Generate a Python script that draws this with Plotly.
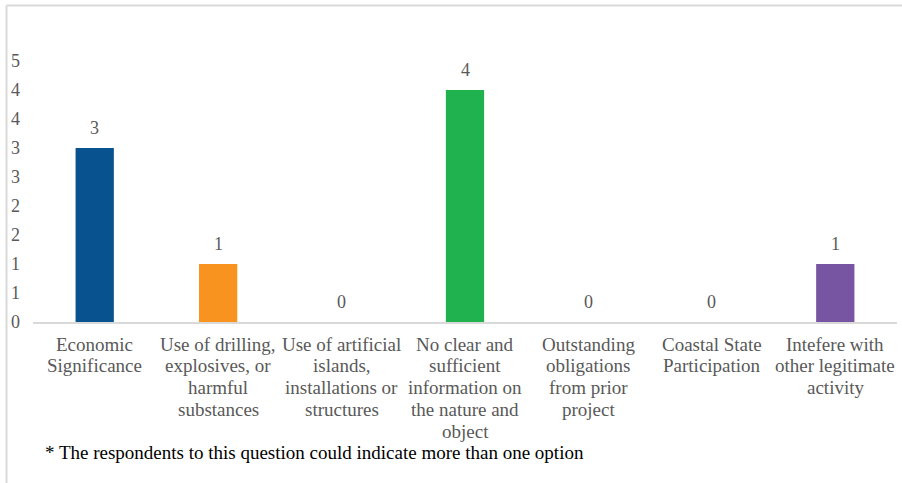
import plotly.graph_objects as go

# Reasons given by respondents (one entry per line of the wrapped label)
categories = [
    ["Economic", "Significance"],
    ["Use of drilling,", "explosives, or", "harmful", "substances"],
    ["Use of artificial", "islands,", "installations or", "structures"],
    ["No clear and", "sufficient", "information on", "the nature and", "object"],
    ["Outstanding", "obligations", "from prior", "project"],
    ["Coastal State", "Participation"],
    ["Intefere with", "other legitimate", "activity"],
]
counts = [3, 1, 0, 4, 0, 0, 1]
bar_colors = ["#08528F", "#F7931E", "#A5A5A5", "#20B24F", "#5B9BD5", "#70AD47", "#7855A3"]

tick_vals = [0, 0.5, 1, 1.5, 2, 2.5, 3, 3.5, 4, 4.5]
tick_text = ["0", "1", "1", "2", "2", "3", "3", "4", "4", "5"]

footnote = "* The respondents to this question could indicate more than one option"

W, H = 902, 483
ML, MR, MT, MB = 33, 5, 32, 161
pw, ph = W - ML - MR, H - MT - MB

def px_x(x):
    return (x - ML) / pw

def px_y(y):
    return (H - MB - y) / ph

font_family = "Liberation Serif"
gray = "#595959"
xs = list(range(len(categories)))

fig = go.Figure(
    go.Bar(
        x=xs,
        y=counts,
        marker=dict(color=bar_colors, line=dict(width=0)),
        width=0.31,
        cliponaxis=False,
    )
)

annotations = []
# value labels above each bar
for i, c in zip(xs, counts):
    annotations.append(dict(
        text=str(c), x=i, y=c, xref="x", yref="y",
        xanchor="center", yanchor="middle", yshift=20,
        showarrow=False,
        font=dict(family=font_family, size=18, color=gray),
    ))
# wrapped category labels below the axis
line_gap = 21.8
for i, lines in zip(xs, categories):
    for k, line in enumerate(lines):
        annotations.append(dict(
            text=line, x=i, y=px_y(344 + k * line_gap), xref="x", yref="paper",
            xanchor="center", yanchor="middle",
            showarrow=False,
            font=dict(family=font_family, size=19, color=gray),
        ))
annotations.append(dict(
    text=footnote,
    xref="paper", yref="paper",
    x=px_x(43), y=px_y(452),
    xanchor="left", yanchor="middle",
    showarrow=False,
    font=dict(family=font_family, size=19, color="black"),
))

fig.update_layout(
    width=W,
    height=H,
    margin=dict(l=ML, r=MR, t=MT, b=MB, pad=0),
    paper_bgcolor="white",
    plot_bgcolor="white",
    showlegend=False,
    font=dict(family=font_family, color=gray),
    xaxis=dict(
        range=[-0.5, len(categories) - 0.5],
        showgrid=False,
        showline=True,
        linecolor="#D9D9D9",
        linewidth=1.5,
        ticks="",
        showticklabels=False,
        fixedrange=True,
    ),
    yaxis=dict(
        range=[0, 5],
        tickmode="array",
        tickvals=tick_vals,
        ticktext=tick_text,
        showgrid=False,
        zeroline=False,
        showline=False,
        ticks="",
        tickfont=dict(family=font_family, size=18, color=gray),
        ticklabelstandoff=12,
        fixedrange=True,
    ),
    annotations=annotations,
    shapes=[
        # outer frame: top and left edges
        dict(type="line", xref="paper", yref="paper",
             x0=px_x(6.5), x1=px_x(902), y0=px_y(5.5), y1=px_y(5.5),
             line=dict(color="#D9D9D9", width=2)),
        dict(type="line", xref="paper", yref="paper",
             x0=px_x(6.5), x1=px_x(6.5), y0=px_y(5.5), y1=px_y(483),
             line=dict(color="#D9D9D9", width=2)),
    ],
)

fig.write_html("out.html")
